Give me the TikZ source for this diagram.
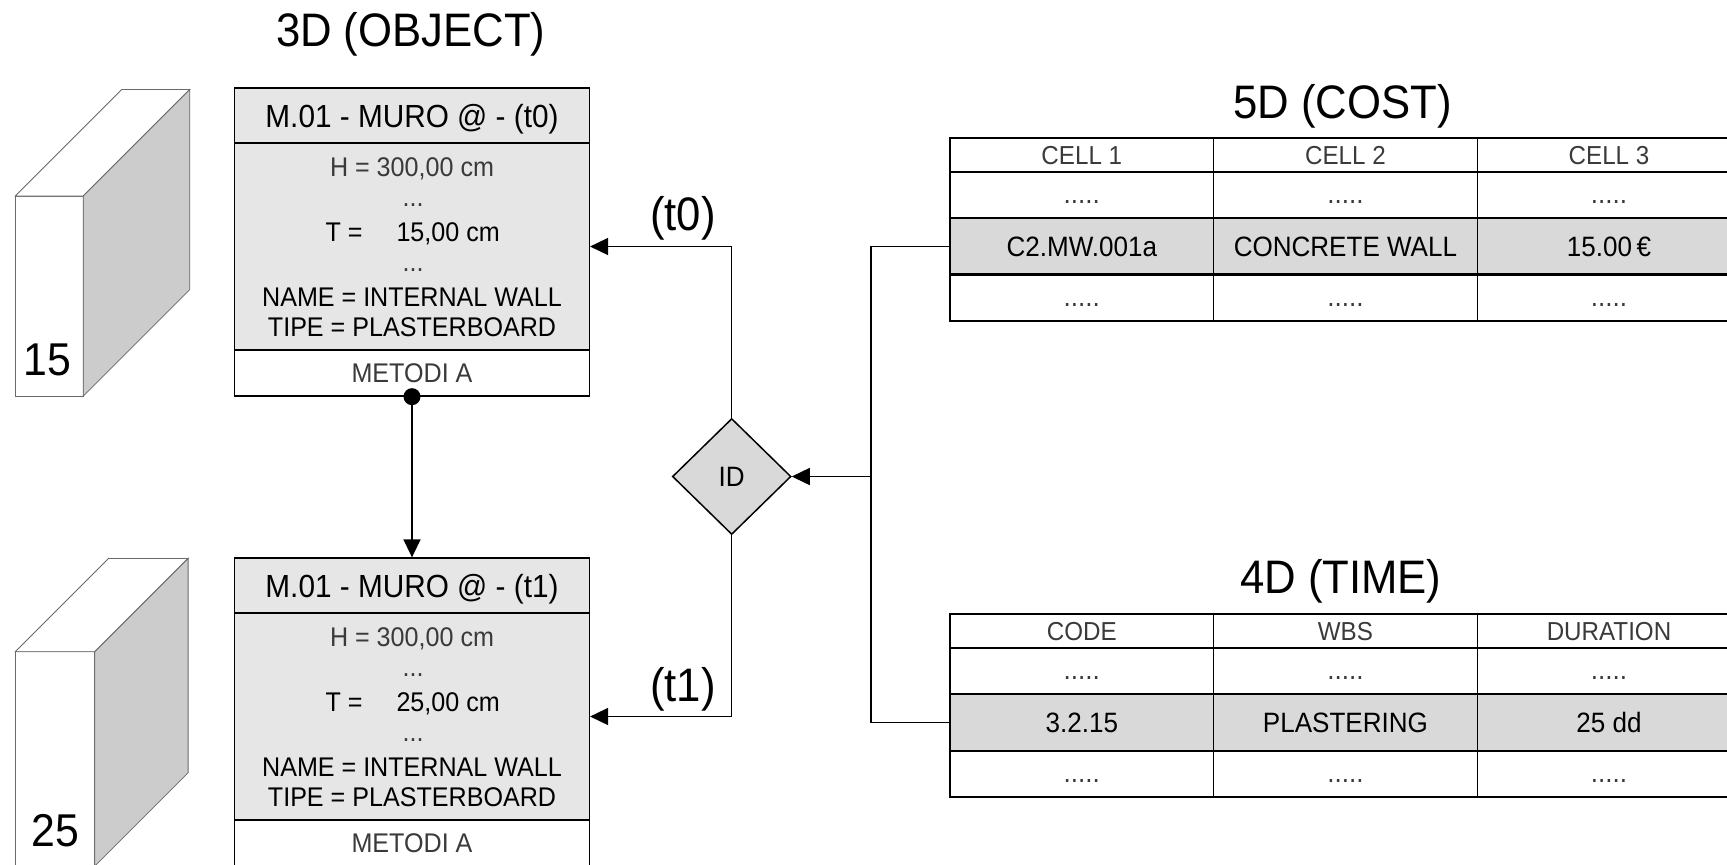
\documentclass[tikz,border=0pt]{standalone}
\usepackage{fontspec}
\setmainfont{Liberation Sans}[FakeStretch=0.93]
\usepackage{tikz}
\usetikzlibrary{shapes.geometric,arrows.meta}

\definecolor{boxgray}{HTML}{E6E6E6}
\definecolor{rowgray}{HTML}{D9D9D9}
\definecolor{sidegray}{HTML}{CCCCCC}
\definecolor{wallline}{HTML}{6A6A6A}
\definecolor{softtext}{HTML}{3A3A3A}

\tikzset{
  txt/.style={inner sep=0pt, text depth=0pt},
  boxpart/.style={txt, draw, minimum width=177.4pt, line width=0.65pt},
  cell/.style={txt, draw, minimum width=131.8pt, line width=0.65pt},
  link/.style={line width=0.75pt},
  arrowto/.style={-{Triangle[length=9pt,width=8.5pt]}},
  titlefont/.style={font=\fontsize{23.5pt}{26pt}\selectfont},
  headfont/.style={font=\fontsize{16pt}{18pt}\selectfont},
  bodyfont/.style={font=\fontsize{13.5pt}{15pt}\selectfont},
  cellhead/.style={font=\fontsize{13pt}{15pt}\selectfont, text=softtext},
  celldots/.style={font=\fontsize{14pt}{16pt}\selectfont, text=softtext, text height=8pt},
  cellmain/.style={font=\fontsize{14pt}{16pt}\selectfont, fill=rowgray},
}

% one wall object: top y, name, time tag, thickness
\newcommand{\murobox}[4]{%
\node at (412,#1+27.5) (#2head) [boxpart, minimum height=27.5pt, fill=boxgray, headfont] {M.01 - MURO @ - (#3)};
\node at (412,#1+158.5) (#2body) [boxpart, minimum height=103.5pt, fill=boxgray] {};
\node at (412,#1+285) (#2foot) [boxpart, minimum height=23pt, fill=white, text=softtext, bodyfont] {METODI A};
\node at (412,#1+78.7) (#2height) [txt, text=softtext, bodyfont] {H = 300,00 cm};
\node at (413,#1+117) (#2dotsa) [txt, text=softtext, bodyfont] {...};
\node at (412.7,#1+143.7) (#2thick) [txt, bodyfont] {T =\hspace{17pt}#4,00 cm};
\node at (413,#1+182) (#2dotsb) [txt, text=softtext, bodyfont] {...};
\node at (412,#1+208.7) (#2name) [txt, bodyfont] {NAME = INTERNAL WALL};
\node at (412,#1+239.3) (#2type) [txt, bodyfont] {TIPE = PLASTERBOARD};
}

% 3d block: left x, top y, front width, depth, bottom y
\newcommand{\wallblock}[5]{%
\draw [wallline, fill=white] (#1,#2) rectangle (#1+#3,#5);
\draw [wallline, fill=white] (#1,#2) -- ++(#4,-#4) -- ++(#3,0) -- ++(-#4,#4) -- cycle;
\draw [wallline, fill=sidegray] (#1+#3,#2) -- ++(#4,-#4) -- (#1+#3+#4,#5-#4) -- (#1+#3,#5) -- cycle;
}

% table row: y, height, name, style, three texts
\newcommand{\tablerow}[7]{%
\node at (1081.8,#1) (#3a) [cell, minimum height=#2, #4] {#5};
\node at (1345.4,#1) (#3b) [cell, minimum height=#2, #4] {#6};
\node at (1609,#1) (#3c) [cell, minimum height=#2, #4] {#7};
}

\begin{document}
\begin{tikzpicture}[x=0.5pt, y=-0.5pt]

\useasboundingbox (0,0) rectangle (1727,864);
\clip (0,0) rectangle (1727,864);

% 3D
\node at (410.8,29.7) (objtitle) [txt, titlefont] {3D (OBJECT)};
\wallblock{15.3}{196}{68}{106.5}{396}
\node at (47.3,360) (num15) [txt, font=\fontsize{23pt}{26pt}\selectfont] {15};
\wallblock{15.3}{651.7}{79.5}{93.3}{866}
\node at (55.5,830) (num25) [txt, font=\fontsize{23pt}{26pt}\selectfont] {25};
\murobox{88}{muro0}{t0}{15}
\murobox{558}{muro1}{t1}{25}

% 5D
\node at (1342.5,101.7) (costtitle) [txt, titlefont] {5D (COST)};
\tablerow{155}{17pt}{cost0}{cellhead}{CELL 1}{CELL 2}{CELL 3}
\tablerow{195}{23pt}{cost1}{celldots}{.....}{.....}{.....}
\tablerow{246.5}{28.5pt}{cost2}{cellmain}{C2.MW.001a}{CONCRETE WALL}{15.00\,€}
\tablerow{298}{23pt}{cost3}{celldots}{.....}{.....}{.....}
\draw [line width=1.2pt] (cost3a.north west) -- (cost3c.north east);

% 4D
\node at (1340.8,576.7) (timetitle) [txt, titlefont] {4D (TIME)};
\tablerow{631}{17pt}{time0}{cellhead}{CODE}{WBS}{DURATION}
\tablerow{671}{23pt}{time1}{celldots}{.....}{.....}{.....}
\tablerow{722.5}{28.5pt}{time2}{cellmain}{3.2.15}{PLASTERING}{25 dd}
\tablerow{774}{23pt}{time3}{celldots}{.....}{.....}{.....}

% ID
\node at (731.7,476.5) (id) [diamond, draw, fill=rowgray, inner sep=0pt, text depth=0pt, minimum width=59.3pt, minimum height=58pt, link, font=\fontsize{14pt}{16pt}\selectfont] {ID};
\coordinate (split) at (871,476.5);

\draw [link, arrowto] (muro0foot.south) -- (muro1head.north);
\fill (muro0foot.south) circle (4.25pt);
\draw [link, arrowto] (id.north) |- (muro0body.east);
\draw [link, arrowto] (id.south) |- (muro1body.east);
\node at (683,213) (tzero) [txt, titlefont] {(t0)};
\node at (683,684) (tone) [txt, titlefont] {(t1)};
\draw [link] (cost2a.west) -| (split) |- (time2a.west);
\draw [link, arrowto] (split) -- (id.east);

\end{tikzpicture}
\end{document}
